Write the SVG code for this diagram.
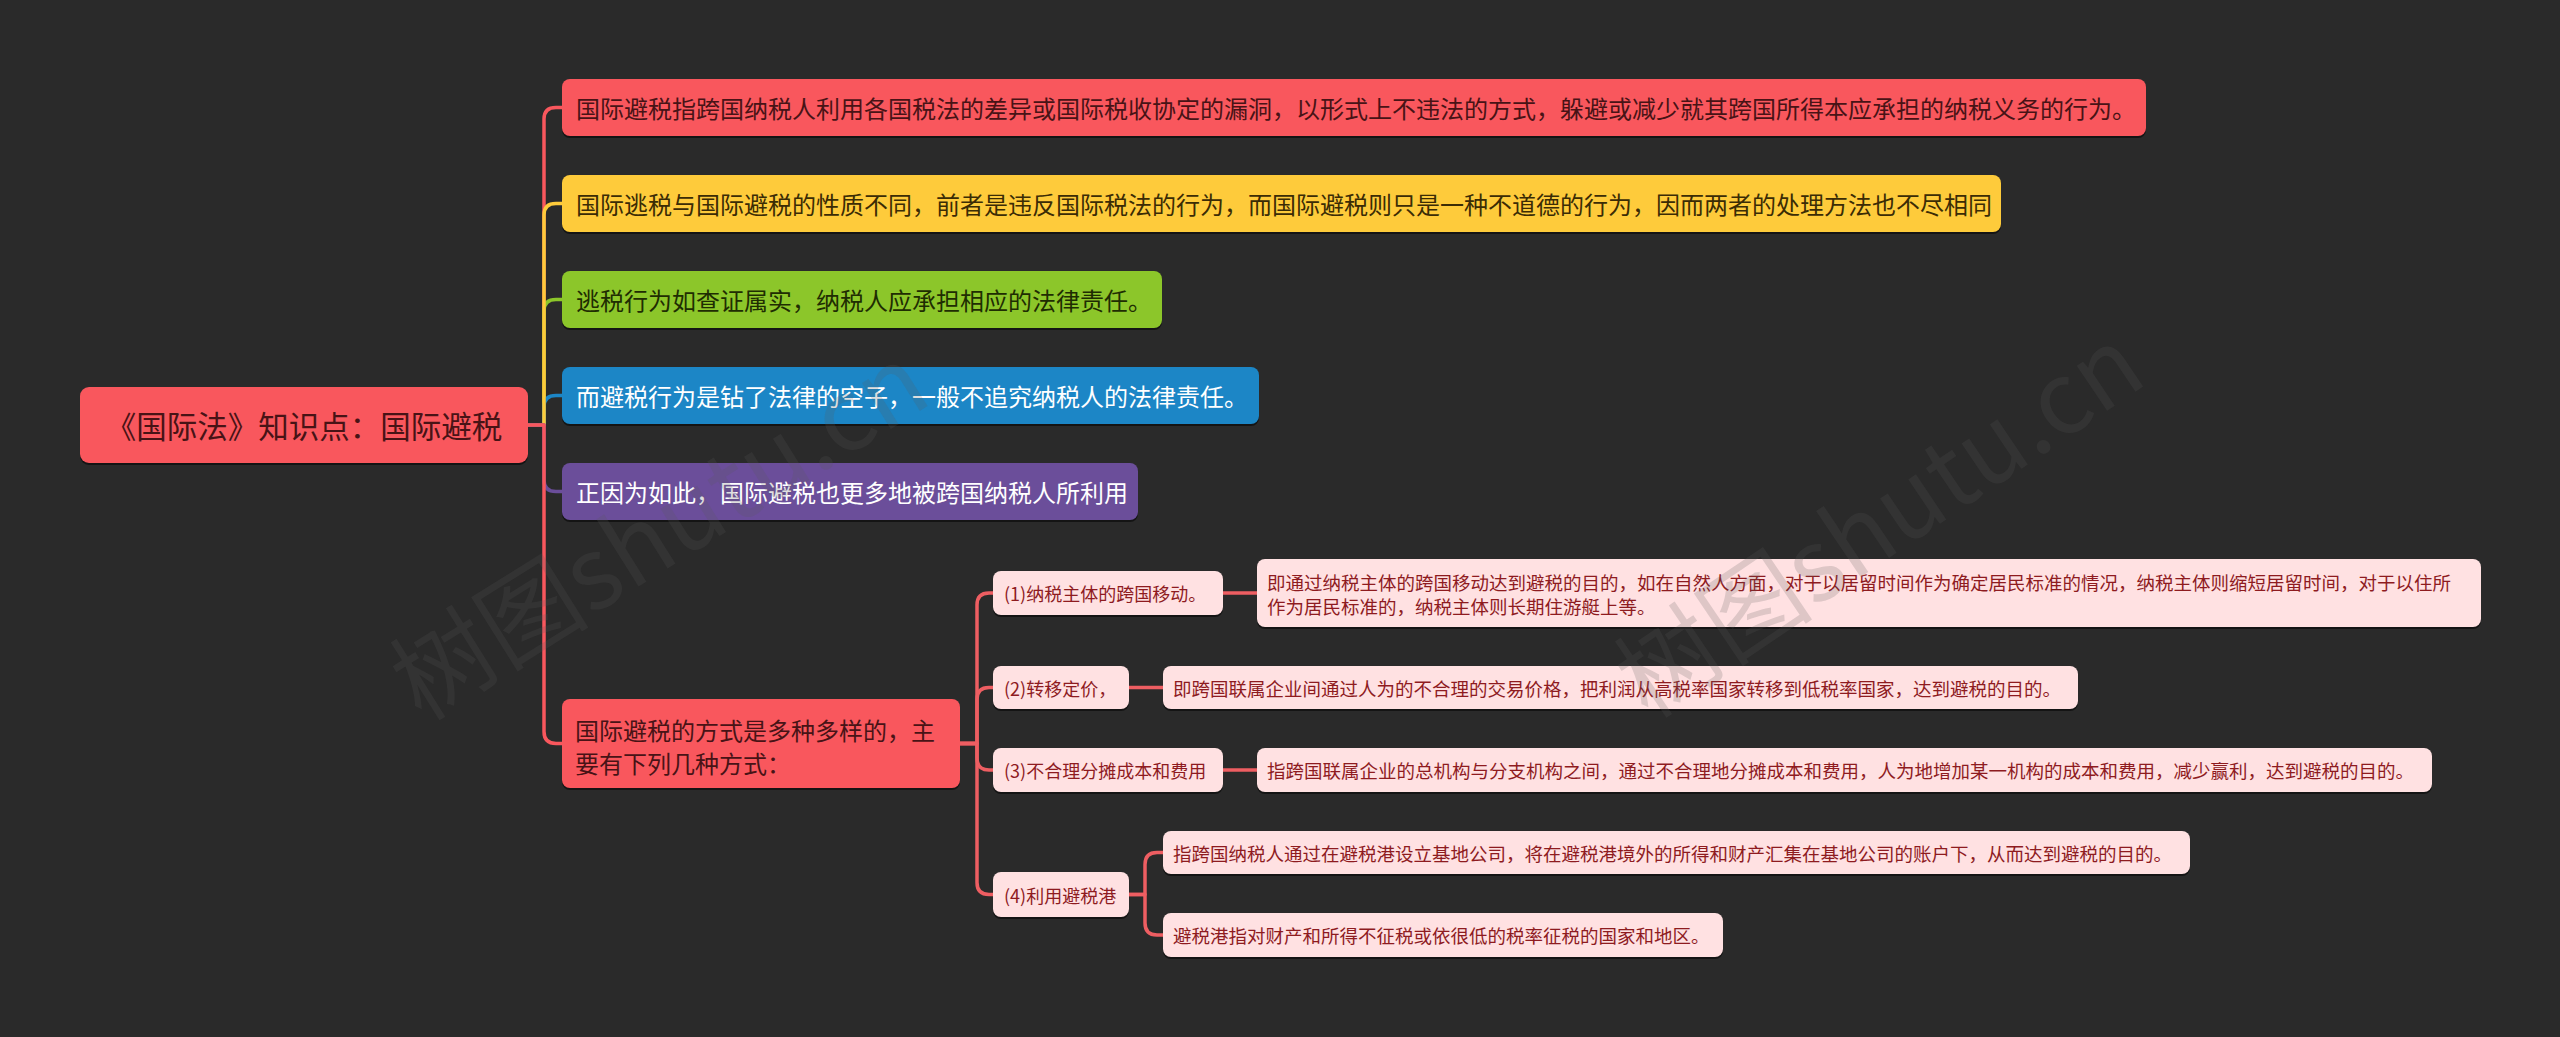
<svg xmlns="http://www.w3.org/2000/svg" width="2560" height="1037" viewBox="0 0 2560 1037">
<style>
text{font-family:"Noto Sans CJK SC","Microsoft YaHei",sans-serif;dominant-baseline:central}
.sh{fill:#141414}
.red{fill:#F9575D}
.yel{fill:#FECB3B}
.grn{fill:#8CC62A}
.blu{fill:#1C86C6}
.pur{fill:#6B4E9A}
.pk{fill:#FFE1E2}
.t1{font-size:24px}
.dk{fill:#481316}
.ybt{fill:#3b2c05}
.gbt{fill:#1f2d02}
.wt{fill:#ffffff}
.t2{font-size:18px;fill:#8E1B1F}
.t3{font-size:18.5px;fill:#8E1B1F}
.ln{fill:none;stroke-width:3.5;stroke-linecap:round;stroke-linejoin:round}
.wm{font-size:100px;fill:#5a5a5a;fill-opacity:0.2;text-anchor:middle}
</style>
<rect width="2560" height="1037" fill="#2a2a2a"/>

<g id="connectors">
<path class="ln" stroke="#F9575D" d="M528,425 H544 V119 Q544,107.5 556,107.5 H562"/>
<path class="ln" stroke="#8CC62A" d="M528,425 H544 V311 Q544,299.5 556,299.5 H562"/>
<path class="ln" stroke="#1C86C6" d="M528,425 H544 V407 Q544,395.5 556,395.5 H562"/>
<path class="ln" stroke="#FECB3B" d="M528,425 H544 V215 Q544,203.5 556,203.5 H562"/>
<path class="ln" stroke="#6B4E9A" d="M528,425 H544 V480 Q544,491.5 556,491.5 H562"/>
<path class="ln" stroke="#F9575D" d="M528,425 H544 V731.5 Q544,743.5 556,743.5 H562"/>
<path class="ln" stroke="#EE5E62" d="M960,743.5 H977 V605 Q977,593 989,593 H993"/>
<path class="ln" stroke="#EE5E62" d="M960,743.5 H977 V699.5 Q977,687.5 989,687.5 H993"/>
<path class="ln" stroke="#EE5E62" d="M960,743.5 H977 V758 Q977,770 989,770 H993"/>
<path class="ln" stroke="#EE5E62" d="M960,743.5 H977 V882.5 Q977,894.5 989,894.5 H993"/>
<path class="ln" stroke="#EE5E62" stroke-width="4" d="M1223,593 H1257"/>
<path class="ln" stroke="#EE5E62" stroke-width="4" d="M1129,687.5 H1163"/>
<path class="ln" stroke="#EE5E62" stroke-width="4" d="M1223,770 H1257"/>
<path class="ln" stroke="#EE5E62" d="M1129,894.5 H1145 V864.5 Q1145,852.5 1157,852.5 H1163"/>
<path class="ln" stroke="#EE5E62" d="M1129,894.5 H1145 V923 Q1145,935 1157,935 H1163"/>
</g>

<g id="root">
<rect class="sh" x="80" y="389" width="448" height="76" rx="9"/>
<rect class="red" x="80" y="387" width="448" height="76" rx="9"/>
<text class="dk" x="304" y="425" font-size="30.5" text-anchor="middle">《国际法》知识点：国际避税</text>
</g>

<g id="n1">
<rect class="sh" x="562" y="81" width="1584" height="57" rx="8"/>
<rect class="red" x="562" y="79" width="1584" height="57" rx="8"/>
<text class="t1 dk" x="576" y="107.5">国际避税指跨国纳税人利用各国税法的差异或国际税收协定的漏洞，以形式上不违法的方式，躲避或减少就其跨国所得本应承担的纳税义务的行为。</text>
</g>

<g id="n2">
<rect class="sh" x="562" y="177" width="1439" height="57" rx="8"/>
<rect class="yel" x="562" y="175" width="1439" height="57" rx="8"/>
<text class="t1 ybt" x="576" y="203.5">国际逃税与国际避税的性质不同，前者是违反国际税法的行为，而国际避税则只是一种不道德的行为，因而两者的处理方法也不尽相同</text>
</g>

<g id="n3">
<rect class="sh" x="562" y="273" width="600" height="57" rx="8"/>
<rect class="grn" x="562" y="271" width="600" height="57" rx="8"/>
<text class="t1 gbt" x="576" y="299.5">逃税行为如查证属实，纳税人应承担相应的法律责任。</text>
</g>

<g id="n4">
<rect class="sh" x="562" y="369" width="697" height="57" rx="8"/>
<rect class="blu" x="562" y="367" width="697" height="57" rx="8"/>
<text class="t1 wt" x="576" y="395.5">而避税行为是钻了法律的空子，一般不追究纳税人的法律责任。</text>
</g>

<g id="n5">
<rect class="sh" x="562" y="465" width="576" height="57" rx="8"/>
<rect class="pur" x="562" y="463" width="576" height="57" rx="8"/>
<text class="t1 wt" x="576" y="491.5">正因为如此，国际避税也更多地被跨国纳税人所利用</text>
</g>

<g id="n6">
<rect class="sh" x="562" y="701" width="398" height="89" rx="8"/>
<rect class="red" x="562" y="699" width="398" height="89" rx="8"/>
<text class="t1 dk" x="575" y="729">国际避税的方式是多种多样的，主</text>
<text class="t1 dk" x="575" y="762">要有下列几种方式：</text>
</g>

<g id="l1">
<rect class="sh" x="993" y="573" width="230" height="44" rx="8"/>
<rect class="pk" x="993" y="571" width="230" height="44" rx="8"/>
<text class="t2" x="1004" y="593">(1)纳税主体的跨国移动。</text>
</g>
<g id="d1">
<rect class="sh" x="1257" y="561" width="1224" height="68" rx="8"/>
<rect class="pk" x="1257" y="559" width="1224" height="68" rx="8"/>
<text class="t3" x="1267" y="581.5">即通过纳税主体的跨国移动达到避税的目的，如在自然人方面，对于以居留时间作为确定居民标准的情况，纳税主体则缩短居留时间，对于以住所</text>
<text class="t3" x="1267" y="606">作为居民标准的，纳税主体则长期住游艇上等。</text>
</g>

<g id="l2">
<rect class="sh" x="993" y="668" width="136" height="43" rx="8"/>
<rect class="pk" x="993" y="666" width="136" height="43" rx="8"/>
<text class="t2" x="1004" y="687.5">(2)转移定价，</text>
</g>
<g id="d2">
<rect class="sh" x="1163" y="668" width="915" height="43" rx="8"/>
<rect class="pk" x="1163" y="666" width="915" height="43" rx="8"/>
<text class="t3" x="1173" y="687.5">即跨国联属企业间通过人为的不合理的交易价格，把利润从高税率国家转移到低税率国家，达到避税的目的。</text>
</g>

<g id="l3">
<rect class="sh" x="993" y="750" width="230" height="44" rx="8"/>
<rect class="pk" x="993" y="748" width="230" height="44" rx="8"/>
<text class="t2" x="1004" y="770">(3)不合理分摊成本和费用</text>
</g>
<g id="d3">
<rect class="sh" x="1257" y="750" width="1175" height="44" rx="8"/>
<rect class="pk" x="1257" y="748" width="1175" height="44" rx="8"/>
<text class="t3" x="1267" y="770">指跨国联属企业的总机构与分支机构之间，通过不合理地分摊成本和费用，人为地增加某一机构的成本和费用，减少赢利，达到避税的目的。</text>
</g>

<g id="l4">
<rect class="sh" x="993" y="874" width="136" height="45" rx="8"/>
<rect class="pk" x="993" y="872" width="136" height="45" rx="8"/>
<text class="t2" x="1004" y="894.5">(4)利用避税港</text>
</g>
<g id="d4a">
<rect class="sh" x="1163" y="833" width="1027" height="43" rx="8"/>
<rect class="pk" x="1163" y="831" width="1027" height="43" rx="8"/>
<text class="t3" x="1173" y="852.5">指跨国纳税人通过在避税港设立基地公司，将在避税港境外的所得和财产汇集在基地公司的账户下，从而达到避税的目的。</text>
</g>
<g id="d4b">
<rect class="sh" x="1163" y="915" width="560" height="44" rx="8"/>
<rect class="pk" x="1163" y="913" width="560" height="44" rx="8"/>
<text class="t3" x="1173" y="935">避税港指对财产和所得不征税或依很低的税率征税的国家和地区。</text>
</g>

<g id="watermark">
<text class="wm" x="655" y="525" transform="rotate(-32 655 525)">树图shutu.cn</text>
<text class="wm" x="1875" y="515" transform="rotate(-34 1875 515)">树图shutu.cn</text>
</g>
</svg>
